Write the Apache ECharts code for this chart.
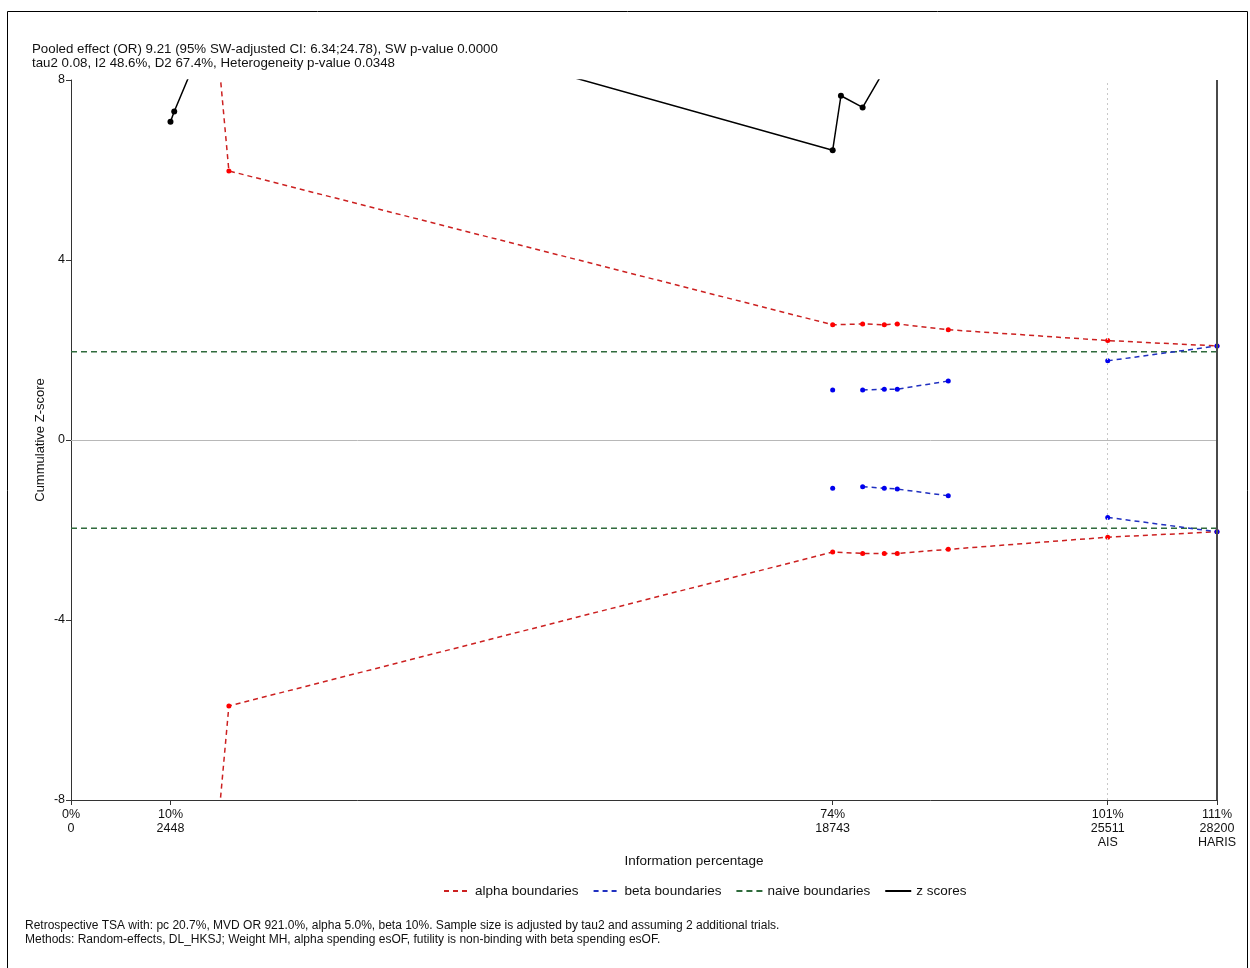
<!DOCTYPE html>
<html>
<head>
<meta charset="utf-8">
<script src="https://cdn.jsdelivr.net/npm/echarts@6/dist/echarts.min.js"></script>
<style>
html,body{margin:0;padding:0;background:#fff;}
#chart{width:1250px;height:968px;}
</style>
</head>
<body>
<div id="chart"></div>
<script>
// ---- data ----
const trialN   = [2448, 2540, 3885, 18743, 18946, 19480, 20013, 20332, 21587];
const zScores  = [7.07, 7.30, 10.2, 6.44, 7.65, 7.39, 8.22, 8.70, 9.20];

const boundN     = [2540, 3885, 18743, 18946, 19480, 20013, 20332, 21587, 25511, 28200];
const alphaUpper = [19.3, 5.98, 2.56, null, 2.58, 2.56, 2.58, 2.45, 2.21, 2.09];
const alphaLower = [-19.3, -5.91, -2.49, null, -2.52, -2.52, -2.52, -2.43, -2.16, -2.04];

const betaN          = [18743, 18946, 19480, 20013, 20332, 21587];
const betaUpper      = [1.11, null, 1.11, 1.13, 1.13, 1.31];
const betaLower      = [-1.07, null, -1.04, -1.07, -1.09, -1.24];
const betaTailN      = [25511, 28200];
const betaUpperTail  = [1.76, 2.09];
const betaLowerTail  = [-1.72, -2.04];

const naiveN     = [0, 28200];
const naiveUpper = [1.96, 1.96];
const naiveLower = [-1.96, -1.96];

const aisN = 25511, harisN = 28200;

const xTickValues = [0, 2448, 18743, 25511, 28200];
const xTickPct    = ['0%', '10%', '74%', '101%', '111%'];
const xTickExtra  = ['', '', '', 'AIS', 'HARIS'];

const headerLines = [
  'Pooled effect (OR) 9.21 (95% SW-adjusted CI: 6.34;24.78), SW p-value 0.0000',
  'tau2 0.08, I2 48.6%, D2 67.4%, Heterogeneity p-value 0.0348'
];
const footerLines = [
  'Retrospective TSA with: pc 20.7%, MVD OR 921.0%, alpha 5.0%, beta 10%. Sample size is adjusted by tau2 and assuming 2 additional trials.',
  'Methods: Random-effects, DL_HKSJ; Weight MH, alpha spending esOF, futility is non-binding with beta spending esOF.'
];

// ---- helpers ----
const pairs = (xs, ys) => xs.map((x, i) => [x, ys[i] === null ? '-' : ys[i]]);
const FONT = '"Liberation Sans", Arial, sans-serif';

const RED = '#cc2020', RED_PT = '#ff0000';
const BLUE = '#2030c0', BLUE_PT = '#0000ee';
const GREEN = '#2f6b3c';

const chart = echarts.init(document.getElementById('chart'), null, {renderer: 'canvas'});

const boundSeries = (name, data, color, ptColor, connect) => ({
  name, type: 'line', data, clip: true,
  connectNulls: connect,
  symbol: 'circle', symbolSize: 5,
  itemStyle: {color: ptColor},
  lineStyle: {color, width: 1.5, type: [5, 4]},
  z: 3, silent: true, animation: false
});

const option = {
  animation: false,
  textStyle: {fontFamily: FONT},
  grid: {left: 71, right: 33, top: 80, bottom: 168, containLabel: false},
  xAxis: {
    type: 'value', min: 0, max: 28200,
    axisLine: {show: true, onZero: false, lineStyle: {color: '#333', width: 1}},
    axisTick: {show: true, length: 5, customValues: xTickValues, lineStyle: {color: '#333'}},
    axisLabel: {
      customValues: xTickValues, margin: 8,
      fontSize: 12.5, color: '#111', fontFamily: FONT, lineHeight: 14,
      formatter: (v) => {
        const i = xTickValues.indexOf(v);
        if (i < 0) return '';
        let s = xTickPct[i] + '\n' + xTickValues[i];
        if (xTickExtra[i]) s += '\n' + xTickExtra[i];
        return s;
      }
    },
    splitLine: {show: false}
  },
  yAxis: {
    type: 'value', min: -8, max: 8, interval: 4,
    axisLine: {show: true, onZero: false, lineStyle: {color: '#333', width: 1}},
    axisTick: {show: true, length: 5, lineStyle: {color: '#333'}},
    axisLabel: {fontSize: 12.5, color: '#111', fontFamily: FONT, margin: 6},
    splitLine: {show: false}
  },
  legend: {
    left: 438, top: 879, itemWidth: 26, itemHeight: 10, itemGap: 14,
    textStyle: {fontSize: 13.5, color: '#111', fontFamily: FONT},
    itemStyle: {opacity: 0},
    data: ['alpha boundaries', 'beta boundaries', 'naive boundaries', 'z scores']
  },
  series: [
    {
      name: 'ref', type: 'line', data: [], silent: true,
      markLine: {
        silent: true, symbol: ['none', 'none'], label: {show: false}, animation: false,
        data: [
          {yAxis: 0, lineStyle: {color: '#b8b8b8', width: 1, type: 'solid'}},
          {xAxis: aisN, lineStyle: {color: '#c8c8c8', width: 1, type: [2, 3]}},
          {xAxis: harisN, lineStyle: {color: '#4a4a4a', width: 2, type: 'solid'}}
        ]
      }
    },
    {
      name: 'naive boundaries', type: 'line', data: pairs(naiveN, naiveUpper),
      symbol: 'none', lineStyle: {color: GREEN, width: 1.5, type: [6, 4]}, silent: true
    },
    {
      name: 'naive boundaries', type: 'line', data: pairs(naiveN, naiveLower),
      symbol: 'none', lineStyle: {color: GREEN, width: 1.5, type: [6, 4]}, silent: true
    },
    boundSeries('alpha boundaries', pairs(boundN, alphaUpper), RED, RED_PT, true),
    boundSeries('alpha boundaries', pairs(boundN, alphaLower), RED, RED_PT, true),
    boundSeries('beta boundaries', pairs(betaN, betaUpper), BLUE, BLUE_PT, false),
    boundSeries('beta boundaries', pairs(betaN, betaLower), BLUE, BLUE_PT, false),
    boundSeries('beta boundaries', pairs(betaTailN, betaUpperTail), BLUE, BLUE_PT, false),
    boundSeries('beta boundaries', pairs(betaTailN, betaLowerTail), BLUE, BLUE_PT, false),
    {
      name: 'z scores', type: 'line', data: pairs(trialN, zScores), clip: true,
      symbol: 'circle', symbolSize: 6,
      itemStyle: {color: '#000'},
      lineStyle: {color: '#000', width: 1.5, type: 'solid'},
      z: 4, silent: true
    }
  ],
  graphic: [
    {type: 'rect', silent: true, shape: {x: 7.5, y: 11.5, width: 1240, height: 970},
     style: {fill: null, stroke: '#000', lineWidth: 1}},
    {type: 'text', left: 32, top: 42, silent: true,
     style: {text: headerLines.join('\n'), font: '13.3px ' + FONT, fill: '#111', lineHeight: 14}},
    {type: 'text', x: 694, y: 861, silent: true,
     style: {text: 'Information percentage', font: '13.5px ' + FONT, fill: '#111', align: 'center', verticalAlign: 'middle'}},
    {type: 'text', x: 40, y: 440, rotation: Math.PI / 2, silent: true,
     style: {text: 'Cummulative Z-score', font: '13px ' + FONT, fill: '#111', align: 'center', verticalAlign: 'middle'}},
    {type: 'text', left: 25, top: 919, silent: true,
     style: {text: footerLines.join('\n'), font: '12px ' + FONT, fill: '#111', lineHeight: 14}}
  ]
};
chart.setOption(option);
</script>
</body>
</html>
